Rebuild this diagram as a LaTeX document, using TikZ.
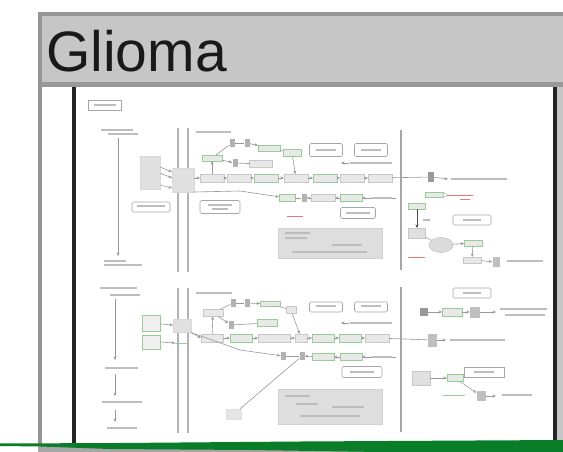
\documentclass[tikz,border=0pt]{standalone}
\usepackage{fontspec}
\newfontfamily\titlefont{Liberation Sans}
\usetikzlibrary{arrows.meta,calc,shapes.geometric}
\definecolor{frameg}{RGB}{198,198,198}
\definecolor{framed}{RGB}{150,150,150}
\definecolor{lgreen}{RGB}{150,205,150}
\definecolor{lred}{RGB}{235,120,120}
\definecolor{kgreen}{RGB}{10,125,40}
\newcommand\txb[3]{\draw[tbar] (#1,#2) -- ++(#3,0);}
\tikzset{
 bx/.style={draw=black!22, fill=black!9, line width=0.6pt, inner sep=0pt, outer sep=0pt},
 gbx/.style={bx, draw=lgreen},
 wbx/.style={draw=black!35, fill=white, line width=0.7pt, rounded corners=1.5pt, inner sep=0pt},
 bigbx/.style={draw=black!18, fill=black!13, line width=0.6pt, inner sep=0pt},
 mk/.style={fill=black!30, inner sep=0pt, minimum width=5pt, minimum height=8pt},
 conn/.style={draw=black!40, line width=0.6pt},
 arr/.style={conn, -{Stealth[length=3.5pt,width=3pt]}},
 memb/.style={draw=black!30, line width=1.6pt},
 sepl/.style={draw=black!35, line width=1.2pt},
 tbar/.style={draw=black!26, line width=1.8pt},
 rline/.style={draw=lred, line width=0.8pt},
 gline/.style={draw=lgreen, line width=1pt},
}
\begin{document}
\begin{tikzpicture}[x=1pt,y=-1pt]
\useasboundingbox (0,0) rectangle (563,452);
\fill[white] (0,0) rectangle (563,452);
% ---------- frame ----------
\fill[frameg] (38,12) rectangle (563,86);
\draw[framed, line width=4pt] (40,452) -- (40,14) -- (563,14);
\fill[black!40] (42,82) rectangle (563,87);
\draw[black!85, line width=4pt] (74,87) -- (74,452);
\draw[black!85, line width=4pt] (555,87) -- (555,452);
\fill[frameg] (557,87) rectangle (563,452);
\node[anchor=base west, font=\titlefont\fontsize{57}{57}\selectfont, inner sep=0pt, text=black!90] (title) at (46,72) {Glioma};

% ---------- upper section ----------
\node[wbx, rounded corners=0pt, minimum width=33pt, minimum height=10pt] (leg) at (105,105) {};
\txb{94}{105}{22}
% left column
\txb{101}{130}{32}\txb{108}{134}{30}
\coordinate (lu1) at (118,138); \coordinate (lu2) at (118,256);
\draw[arr] (lu1) -- (lu2);
\txb{104}{261}{22}\txb{104}{265}{38}
% ligand, membrane, receptor
\node[bx, fill=black!12, draw=black!15, minimum width=20pt, minimum height=33pt] (lig) at (150,173) {};
\draw[memb] (178,128) -- (178,272);
\draw[memb] (188,128) -- (188,272);
\node[bx, fill=black!12, draw=black!15, minimum width=22pt, minimum height=24pt] (rec) at (183,180) {};
\draw[arr] ($(lig.east)+(0,-6)$) -- ($(rec.west)+(0,-8)$);
\draw[arr] (lig.east) -- ($(rec.west)+(0,-2)$);
\draw[arr] ($(lig.east)+(0,12)$) -- ($(rec.west)+(0,8)$);
\node[wbx, minimum width=38pt, minimum height=10pt] (cg) at (151,207) {};
\txb{137}{206}{28}
\txb{196}{132}{35}
% main chain
\node[bx, minimum width=24pt, minimum height=8pt] (c1) at (212,178) {};
\node[bx, minimum width=24pt, minimum height=8pt] (c2) at (239,178) {};
\node[gbx, minimum width=24pt, minimum height=8pt] (c3) at (266,178) {};
\node[bx, minimum width=24pt, minimum height=8pt] (c4) at (296,178) {};
\node[gbx, minimum width=24pt, minimum height=8pt] (c5) at (325,178) {};
\node[bx, minimum width=24pt, minimum height=8pt] (c6) at (352,178) {};
\node[bx, minimum width=24pt, minimum height=8pt] (c7) at (380,178) {};
\draw[arr] (rec.east |- c1.west) -- (c1.west);
\draw[arr] (c1) -- (c2); \draw[arr] (c2) -- (c3); \draw[arr] (c3) -- (c4);
\draw[arr] (c4) -- (c5); \draw[arr] (c5) -- (c6); \draw[arr] (c6) -- (c7);
% upper rows
\node[gbx, minimum width=20pt, minimum height=6pt] (u1) at (212,158) {};
\node[mk] (u2) at (232,143) {};
\node[mk] (u3) at (247,143) {};
\node[gbx, minimum width=22pt, minimum height=6pt] (u4) at (269,148) {};
\node[gbx, minimum width=18pt, minimum height=7pt] (u5) at (292,153) {};
\node[bx, minimum width=23pt, minimum height=7pt] (u6) at (261,164) {};
\node[mk] (u7) at (235,163) {};
\draw[arr] (c1) -- (u1);
\draw[conn] (u1) -- (u2); \draw[conn] (u2) -- (u3); \draw[arr] (u3) -- (u4);
\draw[conn] (u4) -- (u5); \draw[arr] (u5) -- (c4);
\draw[arr] (u1) -- (u7); \draw[conn] (u7) -- (u6);
\node[wbx, minimum width=33pt, minimum height=13pt] (ub1) at (326,150) {};
\node[wbx, minimum width=33pt, minimum height=13pt] (ub2) at (371,150) {};
\txb{316}{150}{20}\txb{361}{150}{20}
\coordinate (ta1) at (349,163); \coordinate (ta2) at (341,163);
\draw[arr] (ta1) -- (ta2);
\txb{350}{163}{42}
% lower row
\node[gbx, minimum width=16pt, minimum height=7pt] (d1) at (287,198) {};
\node[mk] (d2) at (304,198) {};
\node[bx, minimum width=24pt, minimum height=7pt] (d3) at (323,198) {};
\node[gbx, minimum width=22pt, minimum height=7pt] (d4) at (351,198) {};
\coordinate (d5) at (396,198);
\coordinate (k1) at (240,191);
\draw[conn] (rec.south east) -- (k1);
\draw[arr] (k1) -- (d1);
\draw[arr] (d5) -- (d4); \draw[arr] (d4) -- (d3); \draw[arr] (d3) -- (d2); \draw[conn] (d2) -- (d1);
\txb{372}{198}{20}
\draw[rline] (287,216) -- (303,216);
\node[wbx, minimum width=40pt, minimum height=13pt] (r1) at (220,207) {};
\txb{208}{205}{24}\txb{212}{209}{16}
\node[wbx, minimum width=35pt, minimum height=11pt] (r2) at (358,213) {};
\txb{346}{213}{24}
\node[bigbx, minimum width=104pt, minimum height=30pt] (big1) at (330,243) {};
\txb{285}{233}{25}\txb{285}{238}{22}\txb{332}{245}{30}\txb{292}{252}{75}
\draw[sepl] (401,130) -- (401,270);
% right upper
\node[mk, fill=black!40, minimum width=6pt, minimum height=10pt] (ri1) at (431,177) {};
\draw[conn] (c7) -- (ri1);
\coordinate (ri1t) at (448,179);
\draw[arr] (ri1) -- (ri1t);
\txb{451}{179}{56}
\node[gbx, minimum width=18pt, minimum height=5pt] (rg1) at (434,195) {};
\node[circle, draw=black!35, fill=white, inner sep=0pt, minimum size=4pt] (rc1) at (445,195) {};
\draw[rline] (rc1) -- (473,195);
\draw[rline] (460,199) -- (470,199);
\node[gbx, minimum width=17pt, minimum height=6pt] (rg2) at (417,206) {};
\node[bx, fill=black!12, minimum width=17pt, minimum height=10pt] (rb1) at (417,233) {};
\draw[arr, draw=black!70, line width=1pt] (rg2) -- (rb1);
\txb{423}{220}{7}
\node[wbx, minimum width=38pt, minimum height=10pt] (rr1) at (472,220) {};
\txb{463}{220}{18}
\node[ellipse, bx, fill=black!14, minimum width=24pt, minimum height=15pt] (el1) at (441,245) {};
\draw[conn] (rb1) -- (el1);
\node[gbx, minimum width=18pt, minimum height=6pt] (rg3) at (473,243) {};
\draw[arr] (el1) -- (rg3);
\node[bx, minimum width=18pt, minimum height=6pt] (rb2) at (472,260) {};
\draw[arr] (rg3) -- (rb2);
\node[mk, fill=black!25, minimum width=7pt, minimum height=10pt] (fr1) at (496,262) {};
\draw[arr] (rb2) -- (fr1);
\txb{507}{261}{36}
\draw[rline] (408,257) -- (425,257);

% ---------- lower section ----------
\txb{100}{288}{37}\txb{110}{295}{30}
\coordinate (ll1) at (115,299); \coordinate (ll2) at (115,360);
\draw[arr] (ll1) -- (ll2);
\txb{105}{368}{33}
\coordinate (ll3) at (115,374); \coordinate (ll4) at (115,396);
\draw[arr] (ll3) -- (ll4);
\txb{102}{402}{40}
\coordinate (ll5) at (115,410); \coordinate (ll6) at (115,422);
\draw[arr] (ll5) -- (ll6);
\txb{107}{428}{30}
\draw[memb] (178,288) -- (178,433);
\draw[memb] (188,288) -- (188,433);
\txb{196}{293}{36}
\node[gbx, fill=black!6, minimum width=18pt, minimum height=16pt] (lb1) at (151,323) {};
\node[gbx, fill=black!6, minimum width=18pt, minimum height=14pt] (lb2) at (151,342) {};
\node[bx, fill=black!12, draw=black!15, minimum width=18pt, minimum height=13pt] (rec2) at (182,326) {};
\coordinate (gm) at (175,343);
\draw[gline] (gm) -- ++(13,0);
\draw[arr] (lb1) -- (rec2);
\draw[arr] (lb2.east) -- (gm);
% chain lower
\node[bx, minimum width=22pt, minimum height=8pt] (e1) at (212,338) {};
\node[gbx, minimum width=22pt, minimum height=8pt] (e2) at (241,338) {};
\node[bx, minimum width=32pt, minimum height=8pt] (e3) at (274,338) {};
\node[bx, minimum width=12pt, minimum height=8pt] (e4) at (301,338) {};
\node[gbx, minimum width=22pt, minimum height=8pt] (e5) at (323,338) {};
\node[gbx, minimum width=22pt, minimum height=8pt] (e6) at (350,338) {};
\node[bx, minimum width=24pt, minimum height=8pt] (e7) at (377,338) {};
\draw[arr] (rec2.south east) -- (e1.west);
\draw[arr] (e1) -- (e2); \draw[arr] (e2) -- (e3); \draw[arr] (e3) -- (e4);
\draw[arr] (e4) -- (e5); \draw[arr] (e5) -- (e6); \draw[arr] (e6) -- (e7);
\node[bx, minimum width=20pt, minimum height=7pt] (v1) at (213,313) {};
\node[mk] (v2) at (233,303) {};
\node[mk] (v3) at (247,303) {};
\node[gbx, minimum width=20pt, minimum height=5pt] (v4) at (270,304) {};
\node[bx, minimum width=10pt, minimum height=7pt] (v5) at (291,310) {};
\node[gbx, minimum width=20pt, minimum height=7pt] (v6) at (267,323) {};
\node[mk] (v7) at (231,325) {};
\draw[arr] (e1) -- (v1);
\draw[conn] (v1) -- (v2); \draw[conn] (v2) -- (v3); \draw[arr] (v3) -- (v4);
\draw[conn] (v4) -- (v5); \draw[arr] (v5) -- (e4);
\draw[arr] (v1) -- (v7); \draw[conn] (v7) -- (v6);
\node[wbx, minimum width=33pt, minimum height=10pt] (vb1) at (326,307) {};
\node[wbx, minimum width=33pt, minimum height=10pt] (vb2) at (371,307) {};
\txb{316}{306}{20}\txb{361}{306}{20}
\coordinate (tb1) at (349,323); \coordinate (tb2) at (341,323);
\draw[arr] (tb1) -- (tb2);
\txb{350}{323}{42}
\node[mk] (f1) at (283,356) {};
\node[mk] (f2) at (302,356) {};
\node[gbx, minimum width=22pt, minimum height=7pt] (f3) at (323,357) {};
\node[gbx, minimum width=22pt, minimum height=7pt] (f4) at (351,357) {};
\coordinate (f5) at (396,357);
\draw[arr] (f5) -- (f4); \draw[arr] (f4) -- (f3); \draw[arr] (f3) -- (f2); \draw[conn] (f2) -- (f1);
\txb{372}{357}{20}
\coordinate (k2) at (240,350);
\draw[conn] (rec2.south east) -- (k2);
\draw[arr] (k2) -- (f1);
\node[wbx, minimum width=40pt, minimum height=11pt] (r3) at (362,372) {};
\txb{350}{372}{24}
\node[bx, fill=black!10, draw=black!12, minimum width=15pt, minimum height=10pt] (blob) at (234,414) {};
\draw[conn] (f2) -- (blob);
\node[bigbx, minimum width=104pt, minimum height=35pt] (big2) at (330,407) {};
\txb{285}{396}{25}\txb{296}{404}{22}\txb{332}{407}{32}\txb{300}{416}{60}
\draw[sepl] (401,287) -- (401,432);
% right lower
\node[wbx, minimum width=38pt, minimum height=10pt] (rr2) at (472,293) {};
\txb{463}{293}{18}
\node[mk, fill=black!40, minimum width=8pt, minimum height=8pt] (s1) at (424,312) {};
\node[gbx, minimum width=20pt, minimum height=8pt] (s2) at (452,312) {};
\node[mk, fill=black!25, minimum width=10pt, minimum height=11pt] (s3) at (475,312) {};
\draw[arr] (s1) -- (s2);
\draw[arr] (s2) -- (s3);
\coordinate (s4) at (496,312);
\draw[arr] (s3) -- (s4);
\txb{500}{309}{47}\txb{505}{315}{40}
\node[mk, fill=black!25, minimum width=9pt, minimum height=13pt] (s5) at (432,340) {};
\draw[conn] (e7) -- (s5);
\coordinate (s6) at (446,340);
\draw[arr] (s5) -- (s6);
\txb{450}{340}{55}
\node[bx, fill=black!12, minimum width=18pt, minimum height=14pt] (w1) at (421,378) {};
\node[gbx, minimum width=16pt, minimum height=7pt] (w2) at (455,378) {};
\draw[arr] (w1) -- (w2);
\node[wbx, rounded corners=0pt, minimum width=40pt, minimum height=10pt] (w3) at (484,372) {};
\txb{474}{372}{20}
\coordinate (w4) at (443,395);
\draw[gline] (w4) -- ++(22,0);
\node[mk, fill=black!25, minimum width=9pt, minimum height=10pt] (w5) at (481,396) {};
\draw[arr] (w2) -- (w5);
\coordinate (w6) at (496,396);
\draw[arr] (w5) -- (w6);
\txb{502}{395}{30}

% ---------- green bottom stroke ----------
\fill[black!35] (38,446) rectangle (563,452);
\fill[kgreen] (0,443.5) -- (120,443) -- (300,441.5) -- (563,440) -- (563,452) -- (380,452) -- (250,450) -- (110,449) -- (40,446.5) -- (0,446) -- cycle;
\end{tikzpicture}
\end{document}
